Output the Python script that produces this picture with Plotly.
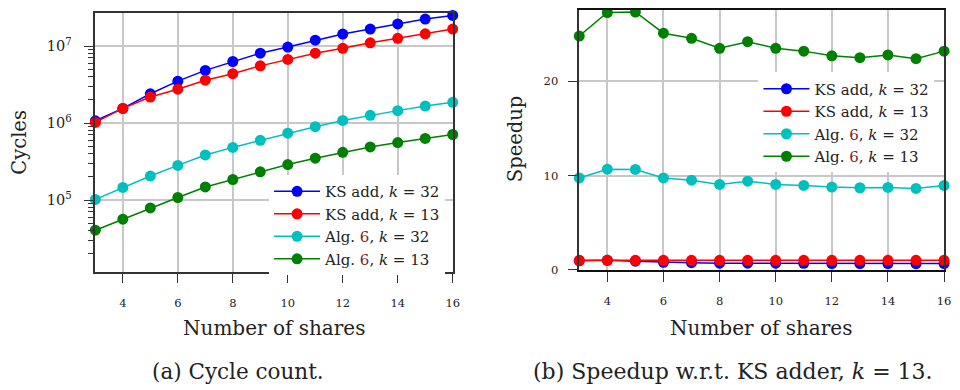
import plotly.graph_objects as go

shares = [3, 4, 5, 6, 7, 8, 9, 10, 11, 12, 13, 14, 15, 16]

# (a) Cycle count
cycles_ks32 = [1.07e6, 1.55e6, 2.4e6, 3.5e6, 4.83e6, 6.3e6, 8.07e6, 9.7e6, 1.19e7, 1.43e7, 1.66e7, 1.94e7, 2.24e7, 2.5e7]
cycles_ks13 = [1.02e6, 1.55e6, 2.18e6, 2.75e6, 3.6e6, 4.38e6, 5.53e6, 6.71e6, 8.07e6, 9.35e6, 1.10e7, 1.26e7, 1.44e7, 1.66e7]
cycles_alg32 = [1.02e5, 1.46e5, 2.05e5, 2.82e5, 3.85e5, 4.83e5, 5.97e5, 7.4e5, 8.98e5, 1.08e6, 1.26e6, 1.45e6, 1.66e6, 1.86e6]
cycles_alg13 = [4.06e4, 5.65e4, 7.9e4, 1.08e5, 1.48e5, 1.85e5, 2.33e5, 2.89e5, 3.5e5, 4.17e5, 4.9e5, 5.58e5, 6.32e5, 7.1e5]

# (b) Speedup w.r.t. KS adder, k = 13
speed_ks32 = [0.95, 1.0, 0.91, 0.79, 0.75, 0.70, 0.69, 0.69, 0.68, 0.65, 0.66, 0.65, 0.64, 0.66]
speed_ks13 = [1.0] * 14
speed_alg32 = [9.74, 10.67, 10.64, 9.74, 9.5, 9.05, 9.4, 9.05, 8.95, 8.77, 8.7, 8.73, 8.63, 8.95]
speed_alg13 = [24.8, 27.3, 27.35, 25.1, 24.56, 23.5, 24.2, 23.5, 23.2, 22.7, 22.5, 22.8, 22.4, 23.2]

names = [
    "KS add, <i>k</i> = 32",
    "KS add, <i>k</i> = 13",
    "Alg. <span style='color:#7a1f1f'>6</span>, <i>k</i> = 32",
    "Alg. <span style='color:#7a1f1f'>6</span>, <i>k</i> = 13",
]
colors = ["#0000ff", "#ff0000", "#00bfbf", "#008000"]

FONT = "DejaVu Serif"

# The page body has an 8px default margin; size the figure so it fills the window.
OFF = 8
W, H = 960 - OFF, 390 - OFF


def px(x):
    return (x - OFF) / W


def py(y):
    return 1 - (y - OFF) / H


fig = go.Figure()

left_series = [cycles_ks32, cycles_ks13, cycles_alg32, cycles_alg13]
right_series = [speed_ks32, speed_ks13, speed_alg32, speed_alg13]

for i, (ys, name, c) in enumerate(zip(left_series, names, colors)):
    fig.add_trace(go.Scatter(
        x=shares, y=ys, name=name, mode="lines+markers",
        line=dict(color=c, width=1.5), marker=dict(color=c, size=11),
        xaxis="x", yaxis="y", legend="legend", legendgroup=f"a{i}", cliponaxis=False))

for i, (ys, name, c) in enumerate(zip(right_series, names, colors)):
    fig.add_trace(go.Scatter(
        x=shares, y=ys, name=name, mode="lines+markers",
        line=dict(color=c, width=1.5), marker=dict(color=c, size=11),
        xaxis="x2", yaxis="y2", legend="legend2", legendgroup=f"b{i}", cliponaxis=False))

grid = "#c8c8c8"
spine = "#333333"
tickfont = dict(family=FONT, size=11.5, color="#222")

minor_vals = [m * 10 ** e for e in (4, 5, 6) for m in range(2, 10)]

fig.update_layout(
    width=W, height=H,
    margin=dict(l=0, r=0, t=0, b=0),
    paper_bgcolor="white", plot_bgcolor="white",
    showlegend=True,
    font=dict(family=FONT, color="#222"),
    xaxis=dict(domain=[px(96), px(456)], anchor="y", range=[3, 16],
               tickvals=[4, 6, 8, 10, 12, 14, 16], ticks="outside", ticklen=10,
               tickcolor=spine, tickwidth=1.2, tickfont=tickfont, ticklabelstandoff=10,
               ticklabeloverflow="allow",
               showgrid=True, gridcolor=grid, gridwidth=1.5, zeroline=False,
               showline=True, linecolor=spine, linewidth=1.5, mirror=True),
    yaxis=dict(domain=[py(276), py(11)], anchor="x", type="log", range=[4.07, 7.43],
               tickvals=[1e5, 1e6, 1e7],
               ticktext=["10<sup>5</sup>", "10<sup>6</sup>", "10<sup>7</sup>"],
               ticks="outside", ticklen=10, tickcolor=spine, tickwidth=1.2,
               tickfont=dict(family=FONT, size=14.5, color="#222"), ticklabelstandoff=9,
               minor=dict(tickvals=minor_vals, ticks="outside", ticklen=6,
                          tickcolor=spine, tickwidth=1, showgrid=False),
               showgrid=True, gridcolor=grid, gridwidth=1.5, zeroline=False,
               showline=True, linecolor=spine, linewidth=1.5, mirror=True),
    xaxis2=dict(domain=[px(583.5), px(951)], anchor="y2", range=[3, 16],
                tickvals=[4, 6, 8, 10, 12, 14, 16], ticks="outside", ticklen=10,
                tickcolor=spine, tickwidth=1.2, tickfont=tickfont, ticklabelstandoff=10,
                ticklabeloverflow="allow",
                showgrid=True, gridcolor=grid, gridwidth=1.5, zeroline=False,
                showline=True, linecolor="#111", linewidth=1.8, mirror=True),
    yaxis2=dict(domain=[py(274), 1.0], anchor="x2", range=[0, (274 - OFF) / 9.65],
                tickvals=[0, 10, 20], ticks="outside", ticklen=10,
                tickcolor=spine, tickwidth=1.2, tickfont=tickfont, ticklabelstandoff=7,
                showgrid=True, gridcolor=grid, gridwidth=1.5, zeroline=False,
                showline=True, linecolor=spine, linewidth=1.5, mirror=True),
    legend=dict(x=px(271), y=py(177), xanchor="left", yanchor="top",
                bgcolor="white", borderwidth=0, tracegroupgap=0,
                font=dict(family=FONT, size=15, color="#222"),
                itemsizing="trace", itemwidth=46, entrywidth=135),
    legend2=dict(x=px(764), y=py(72), xanchor="left", yanchor="top",
                 bgcolor="white", borderwidth=0, tracegroupgap=0,
                 font=dict(family=FONT, size=15, color="#222"),
                 itemsizing="trace", itemwidth=46, entrywidth=135),
)

annotations = [
    dict(text="Cycles", x=px(20), y=py(143), textangle=-90, size=19.5),
    dict(text="Speedup", x=px(520), y=py(140), textangle=-90, size=19.5),
    dict(text="Number of shares", x=px(276), y=py(334), size=20),
    dict(text="Number of shares", x=px(767), y=py(334), size=20),
    dict(text="(a) Cycle count.", x=px(240), y=py(378), size=21.5),
    dict(text="(b) Speedup w.r.t. KS adder, <i>k</i> = 13.", x=px(738), y=py(378), size=22),
]
for a in annotations:
    size = a.pop("size")
    fig.add_annotation(xref="paper", yref="paper", showarrow=False,
                       xanchor="center", yanchor="middle",
                       font=dict(family=FONT, size=size, color="#222"), **a)

fig.write_html("out.html")
